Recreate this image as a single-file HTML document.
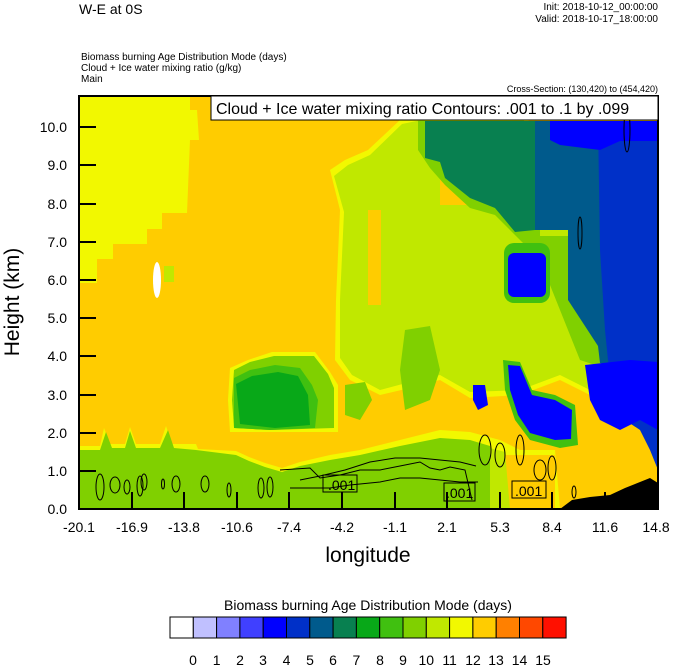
<!DOCTYPE html>
<html><head><meta charset="utf-8"><style>
html,body{margin:0;padding:0;background:#fff;}
svg{display:block;font-family:"Liberation Sans",sans-serif;}
</style></head><body>
<svg width="674" height="667" viewBox="0 0 674 667" xmlns="http://www.w3.org/2000/svg">
<defs><clipPath id="pc"><rect x="79" y="96" width="579" height="413"/></clipPath></defs>
<g clip-path="url(#pc)">
<rect x="79" y="96" width="579" height="413" fill="#ffcc00"/>
<!-- left yellow -->
<polygon fill="#f2f800" points="79,96 190,96 190,110 197,110 199,140 190,140 187,213 162,213 162,229 147,229 147,244 113,244 113,259 97,259 97,283 79,283"/>
<ellipse cx="157" cy="280" rx="4" ry="18" fill="#fff"/>
<rect x="164" y="266" width="10" height="16" fill="#c0e800"/>
<!-- big light green middle -->
<polygon fill="#f2f800" points="330,170 345,160 368,150 400,120 470,105 520,110 560,160 600,270 625,330 640,390 600,400 560,380 520,395 470,398 440,380 410,388 380,395 350,380 335,360 336,300 340,210"/>
<polygon fill="#c0e800" points="334,176 348,165 370,155 402,124 470,110 520,115 555,165 595,270 620,330 635,385 600,395 560,375 520,390 470,392 440,375 410,382 380,390 352,375 340,358 340,300 344,212"/>
<polygon fill="#ffcc00" points="368,210 381,210 381,305 368,305"/>
<polygon fill="#ffcc00" points="440,160 470,150 480,185 470,205 440,205"/>
<polygon fill="#80d000" points="405,330 430,326 440,370 430,400 405,410 400,370"/>
<!-- teal-green upper -->
<polygon fill="#80d000" points="418,121 540,121 540,236 572,236 572,300 602,350 604,368 580,360 560,310 540,260 520,240 495,215 470,208 445,185 430,168 418,150"/>
<polygon fill="#088050" points="425,121 535,121 535,230 515,232 495,208 470,198 445,178 440,162 425,158"/>
<polygon fill="#005a8c" points="535,121 658,121 658,370 630,372 600,363 598,346 568,300 568,230 535,230"/>
<polygon fill="#0030c8" points="598,121 658,121 658,470 650,450 640,430 625,420 610,380 605,330 600,250"/>
<polygon fill="#0000ff" points="550,121 658,121 658,141 620,141 600,150 560,145 550,140"/>
<polygon fill="#0000ff" points="585,365 630,360 658,362 658,430 640,420 620,430 600,420 590,400"/>
<!-- mid blue blob -->
<rect x="504" y="243" width="46" height="60" rx="10" fill="#40c010"/>
<rect x="508" y="253" width="38" height="44" rx="6" fill="#0000ff"/>
<!-- lower blue blob -->
<polygon fill="#40c010" points="503,360 520,362 532,390 555,395 575,405 578,445 560,448 530,440 515,420 505,390"/>
<polygon fill="#0000ff" points="508,365 520,366 532,395 555,400 572,410 571,439 555,440 530,433 518,415 510,390"/>
<polygon fill="#0000ff" points="473,385 485,385 488,405 478,410 473,400"/>
<!-- dark green blob -->
<polygon fill="#f2f800" points="230,368 248,360 272,352 315,352 330,372 338,385 338,432 290,432 270,432 230,432 228,400"/>
<polygon fill="#80d000" points="234,370 250,362 274,356 314,356 328,374 334,388 334,428 270,430 234,428 232,400"/>
<polygon fill="#40c010" points="234,378 250,370 275,365 300,368 312,385 318,400 315,428 270,430 234,428"/>
<polygon fill="#08a818" points="236,384 252,376 278,372 298,376 308,395 310,425 275,428 240,424"/>
<!-- right green blob -->
<polygon fill="#80d000" points="345,385 365,382 372,400 360,420 345,415"/>
<!-- bottom green band -->
<polygon fill="#f2f800" points="79,446 100,446 104,428 110,444 125,444 130,427 136,444 160,444 166,426 172,444 196,444 198,449 236,451 249,457 265,463 282,468 300,462 330,455 360,450 400,440 440,430 470,432 500,440 520,450 555,450 560,509 79,509"/>
<polygon fill="#80d000" points="79,450 100,450 106,432 112,448 125,448 130,431 136,448 160,448 168,430 174,448 196,450 236,455 249,461 265,467 282,472 300,466 330,460 360,455 400,446 440,438 470,440 490,446 500,509 79,509"/>
<polygon fill="#ffcc00" points="505,455 555,455 555,509 505,509"/>
<polygon fill="#c0e800" points="490,448 505,452 510,509 490,509"/>
<!-- terrain -->
<polygon fill="#000" points="560,509 572,500 590,497 610,495 625,488 640,482 650,478 658,483 658,509"/>
<!-- contours -->
<g fill="none" stroke="#000" stroke-width="1">
<ellipse cx="100" cy="487" rx="4" ry="13"/><ellipse cx="115" cy="485" rx="5" ry="8"/><ellipse cx="127" cy="487" rx="3" ry="7"/>
<ellipse cx="140" cy="486" rx="3" ry="10"/><ellipse cx="144" cy="482" rx="3" ry="8"/><ellipse cx="163" cy="484" rx="1.5" ry="5"/>
<ellipse cx="176" cy="484" rx="4" ry="8"/><ellipse cx="205" cy="484" rx="4" ry="8"/><ellipse cx="229" cy="490" rx="2" ry="7"/>
<ellipse cx="261" cy="488" rx="3" ry="10"/><ellipse cx="270" cy="487" rx="3" ry="10"/>
<polyline points="280,470 310,468 320,478 340,475 360,470 380,470 400,466 420,462 430,468 440,470 450,467 465,470 472,500"/>
<polyline points="290,488 330,488 350,485 380,482 400,478 420,478 440,480 460,482 478,482"/>
<polyline points="300,480 320,476 345,470 370,462 395,458 420,458 440,460 460,462 476,466"/>
<ellipse cx="485" cy="450" rx="6" ry="15"/><ellipse cx="500" cy="455" rx="5" ry="12"/><ellipse cx="520" cy="450" rx="4" ry="15"/>
<ellipse cx="540" cy="470" rx="6" ry="10"/><ellipse cx="552" cy="468" rx="4" ry="12"/><ellipse cx="574" cy="492" rx="2" ry="6"/>
<ellipse cx="580" cy="233" rx="2" ry="16"/><ellipse cx="627" cy="130" rx="3" ry="22"/>
</g>
<g font-size="14" fill="#000">
<rect x="323" y="475" width="34" height="17" fill="none" stroke="#000"/><text x="328" y="490">.001</text>
<rect x="444" y="483" width="31" height="18" fill="none" stroke="#000"/><text x="446" y="498">.001</text>
<rect x="512" y="481" width="34" height="17" fill="none" stroke="#000"/><text x="515" y="496">.001</text>
</g>
</g>
<!-- frame + ticks -->
<rect x="79" y="96" width="579" height="413" fill="none" stroke="#000" stroke-width="2"/>
<g stroke="#000" stroke-width="2">
<line x1="79" y1="471" x2="96" y2="471"/><line x1="79" y1="433" x2="96" y2="433"/><line x1="79" y1="395" x2="96" y2="395"/>
<line x1="79" y1="356" x2="96" y2="356"/><line x1="79" y1="318" x2="96" y2="318"/><line x1="79" y1="280" x2="96" y2="280"/>
<line x1="79" y1="242" x2="96" y2="242"/><line x1="79" y1="204" x2="96" y2="204"/><line x1="79" y1="165" x2="96" y2="165"/>
<line x1="79" y1="127" x2="96" y2="127"/>
<line x1="132" y1="509" x2="132" y2="492"/><line x1="184" y1="509" x2="184" y2="492"/><line x1="237" y1="509" x2="237" y2="492"/>
<line x1="289" y1="509" x2="289" y2="492"/><line x1="342" y1="509" x2="342" y2="492"/><line x1="395" y1="509" x2="395" y2="492"/>
<line x1="447" y1="509" x2="447" y2="492"/><line x1="500" y1="509" x2="500" y2="492"/><line x1="552" y1="509" x2="552" y2="492"/>
<line x1="605" y1="509" x2="605" y2="492"/>
</g>
<!-- title box -->
<rect x="211" y="96" width="447" height="24" fill="#fff" stroke="#000" stroke-width="1"/>
<text x="216" y="114" font-size="16">Cloud + Ice water mixing ratio Contours: .001 to .1 by .099</text>
<!-- y labels -->
<g font-size="14" text-anchor="end">
<text x="67" y="514">0.0</text><text x="67" y="476">1.0</text><text x="67" y="438">2.0</text><text x="67" y="400">3.0</text>
<text x="67" y="361">4.0</text><text x="67" y="323">5.0</text><text x="67" y="285">6.0</text><text x="67" y="247">7.0</text>
<text x="67" y="209">8.0</text><text x="67" y="170">9.0</text><text x="67" y="132">10.0</text>
</g>
<g font-size="14" text-anchor="middle">
<text x="79" y="532">-20.1</text><text x="132" y="532">-16.9</text><text x="184" y="532">-13.8</text><text x="237" y="532">-10.6</text>
<text x="289" y="532">-7.4</text><text x="342" y="532">-4.2</text><text x="395" y="532">-1.1</text><text x="447" y="532">2.1</text>
<text x="500" y="532">5.3</text><text x="552" y="532">8.4</text><text x="605" y="532">11.6</text><text x="656" y="532">14.8</text>
</g>
<text x="368" y="562" font-size="21" text-anchor="middle">longitude</text>
<text transform="translate(19,302) rotate(-90)" font-size="21" text-anchor="middle">Height (km)</text>
<text x="79" y="14" font-size="14">W-E at 0S</text>
<g font-size="10" text-anchor="end"><text x="658" y="10">Init: 2018-10-12_00:00:00</text><text x="658" y="22">Valid: 2018-10-17_18:00:00</text>
<text x="658" y="92" font-size="9">Cross-Section: (130,420) to (454,420)</text></g>
<g font-size="10"><text x="81" y="60">Biomass burning Age Distribution Mode   (days)</text><text x="81" y="71">Cloud + Ice water mixing ratio   (g/kg)</text><text x="81" y="82">Main</text></g>
<!-- colorbar -->
<text x="368" y="610" font-size="14" text-anchor="middle">Biomass burning Age Distribution Mode  (days)</text>
<g stroke="#000" stroke-width="1">
<rect x="170" y="617" width="23.3" height="21" fill="#ffffff"/><rect x="193.3" y="617" width="23.3" height="21" fill="#c0c0ff"/>
<rect x="216.6" y="617" width="23.3" height="21" fill="#8080ff"/><rect x="239.9" y="617" width="23.3" height="21" fill="#4040ff"/>
<rect x="263.2" y="617" width="23.3" height="21" fill="#0000ff"/><rect x="286.5" y="617" width="23.3" height="21" fill="#0030c8"/>
<rect x="309.8" y="617" width="23.3" height="21" fill="#005a8c"/><rect x="333.1" y="617" width="23.3" height="21" fill="#088050"/>
<rect x="356.4" y="617" width="23.3" height="21" fill="#08a818"/><rect x="379.7" y="617" width="23.3" height="21" fill="#40c010"/>
<rect x="403" y="617" width="23.3" height="21" fill="#80d000"/><rect x="426.3" y="617" width="23.3" height="21" fill="#c0e800"/>
<rect x="449.6" y="617" width="23.3" height="21" fill="#f2f800"/><rect x="472.9" y="617" width="23.3" height="21" fill="#ffcc00"/>
<rect x="496.2" y="617" width="23.3" height="21" fill="#ff8000"/><rect x="519.5" y="617" width="23.3" height="21" fill="#ff4800"/>
<rect x="542.8" y="617" width="23.3" height="21" fill="#ff1000"/>
</g>
<g font-size="14" text-anchor="middle">
<text x="193" y="665">0</text><text x="216.6" y="665">1</text><text x="240" y="665">2</text><text x="263" y="665">3</text>
<text x="286.5" y="665">4</text><text x="310" y="665">5</text><text x="333" y="665">6</text><text x="356.4" y="665">7</text>
<text x="380" y="665">8</text><text x="403" y="665">9</text><text x="426.3" y="665">10</text><text x="449.6" y="665">11</text>
<text x="473" y="665">12</text><text x="496" y="665">13</text><text x="519.5" y="665">14</text><text x="543" y="665">15</text>
</g>
</svg>
</body></html>
